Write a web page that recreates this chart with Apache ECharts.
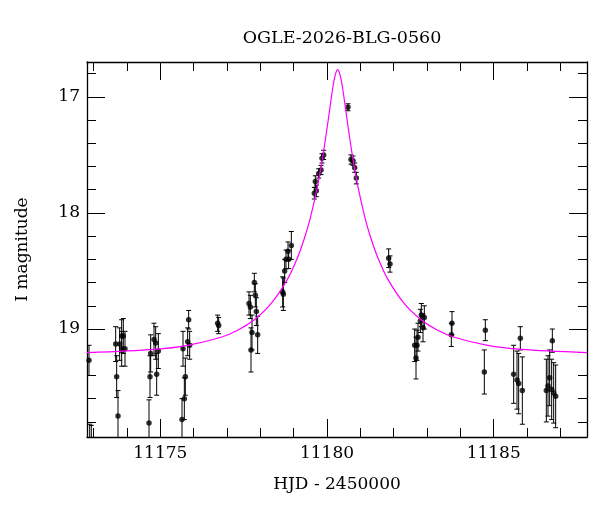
<!DOCTYPE html>
<html>
<head>
<meta charset="utf-8">
<title>OGLE-2026-BLG-0560</title>
<script src="https://cdn.jsdelivr.net/npm/echarts@6/dist/echarts.min.js"></script>
<style>
  html, body { margin: 0; padding: 0; background: #fff; }
  #chart { width: 600px; height: 512px; }
</style>
</head>
<body>
<div id="chart"></div>
<script>
// photometry: HJD - 2450000, I mag, error
const times = [
  11172.86, 11172.88, 11172.93,
  11173.66, 11173.69, 11173.73, 11173.78, 11173.84, 11173.89, 11173.84, 11173.94,
  11174.66, 11174.69, 11174.71, 11174.81, 11174.86, 11174.94, 11174.89,
  11175.65, 11175.72, 11175.75, 11175.68, 11175.82, 11175.88, 11175.85,
  11176.72, 11176.75,
  11177.72, 11177.75, 11177.66, 11177.70, 11177.82, 11177.85, 11177.88, 11177.92,
  11178.67, 11178.69, 11178.73, 11178.77, 11178.85, 11178.83, 11178.93,
  11179.62, 11179.68, 11179.65, 11179.75, 11179.82, 11179.85, 11179.90,
  11180.63, 11180.72, 11180.78, 11180.83, 11180.88,
  11181.85, 11181.89,
  11182.63, 11182.67, 11182.70, 11182.73, 11182.80, 11182.83, 11182.88, 11182.92,
  11183.75, 11183.73,
  11184.75, 11184.72,
  11185.60, 11185.70, 11185.75, 11185.86, 11185.80,
  11186.58, 11186.63, 11186.68, 11186.74, 11186.80, 11186.86, 11186.76
];
const mags = [
  19.27, 20.05, 20.10,
  19.13, 19.41, 19.75, 19.13, 19.06, 19.06, 19.17, 19.17,
  19.81, 19.41, 19.21, 19.09, 19.12, 19.19, 19.39,
  19.78, 19.60, 19.41, 19.17, 19.11, 19.14, 18.92,
  18.95, 18.97,
  19.18, 19.03, 18.78, 18.81, 18.60, 18.71, 18.85, 19.05,
  18.68, 18.70, 18.50, 18.40, 18.40, 18.33, 18.28,
  17.83, 17.81, 17.73, 17.66, 17.63, 17.53, 17.50,
  17.09, 17.54, 17.55, 17.61, 17.70,
  18.39, 18.44,
  19.14, 19.25, 19.14, 19.07, 18.93, 18.88, 18.99, 18.90,
  18.95, 19.05,
  19.01, 19.37,
  19.39, 19.44, 19.47, 19.53, 19.08,
  19.53, 19.49, 19.42, 19.52, 19.55, 19.58, 19.10
];
const errs = [
  0.13, 0.23, 0.27,
  0.15, 0.18, 0.22, 0.14, 0.14, 0.15, 0.15, 0.15,
  0.20, 0.18, 0.16, 0.14, 0.14, 0.15, 0.18,
  0.18, 0.18, 0.16, 0.15, 0.12, 0.12, 0.08,
  0.07, 0.07,
  0.19, 0.15, 0.10, 0.10, 0.08, 0.10, 0.12, 0.16,
  0.13, 0.14, 0.10, 0.08, 0.08, 0.08, 0.12,
  0.05, 0.05, 0.05, 0.04, 0.04, 0.04, 0.04,
  0.03, 0.04, 0.04, 0.04, 0.05,
  0.08, 0.07,
  0.14, 0.18, 0.13, 0.12, 0.10, 0.10, 0.12, 0.10,
  0.10, 0.10,
  0.09, 0.19,
  0.25, 0.25, 0.26, 0.29, 0.10,
  0.27, 0.26, 0.24, 0.26, 0.26, 0.27, 0.10
];

// model curve
const modelT = [
  11172.80, 11174.82, 11175.82, 11176.82, 11177.32, 11177.82, 11178.32, 11178.82,
  11179.12, 11179.32, 11179.50, 11179.72, 11179.87, 11180.02, 11180.12, 11180.17,
  11180.22, 11180.27, 11180.32, 11180.37, 11180.42, 11180.47, 11180.52, 11180.62,
  11180.77, 11180.92, 11181.14, 11181.32, 11181.52, 11181.82, 11182.32, 11182.82,
  11183.32, 11183.82, 11184.82, 11185.82, 11187.80
];
const modelMag = [
  19.204, 19.176, 19.141, 19.071, 19.011, 18.920, 18.782, 18.568,
  18.381, 18.220, 18.042, 17.763, 17.522, 17.234, 17.026, 16.928,
  16.846, 16.789, 16.765, 16.789, 16.846, 16.928, 17.026, 17.234,
  17.522, 17.763, 18.042, 18.220, 18.381, 18.568, 18.782, 18.920,
  19.011, 19.071, 19.141, 19.176, 19.204
];

const xMajor = [11175, 11180, 11185];
const xMinor = [11173, 11174, 11176, 11177, 11178, 11179, 11181, 11182, 11183, 11184, 11186, 11187];
const yMajor = [17, 18, 19];
const yMinor = [16.8, 17.2, 17.4, 17.6, 17.8, 18.2, 18.4, 18.6, 18.8, 19.2, 19.4, 19.6, 19.8];

const font = 'DejaVu Serif';
const xRange = { min: 11172.8, max: 11187.8 };
const yRange = { min: 16.7, max: 19.93 };

function xAxisDef(pos, ticks, len, withLabels, withLine) {
  return {
    type: 'value', position: pos, ...xRange,
    axisLine: { show: withLine, onZero: false, lineStyle: { color: '#000', width: 1.3 } },
    axisTick: { show: true, inside: true, length: len, customValues: ticks, lineStyle: { color: '#000', width: 1 } },
    axisLabel: withLabels
      ? { show: true, customValues: ticks, margin: 8, color: '#000', fontFamily: font, fontSize: 17,
          formatter: v => String(v) }
      : { show: false },
    splitLine: { show: false }
  };
}
function yAxisDef(pos, ticks, len, withLabels, withLine) {
  return {
    type: 'value', position: pos, inverse: true, ...yRange,
    axisLine: { show: withLine, onZero: false, lineStyle: { color: '#000', width: 1.3 } },
    axisTick: { show: true, inside: true, length: len, customValues: ticks, lineStyle: { color: '#000', width: 1 } },
    axisLabel: withLabels
      ? { show: true, customValues: ticks, margin: 7, color: '#000', fontFamily: font, fontSize: 17,
          formatter: v => String(v) }
      : { show: false },
    splitLine: { show: false }
  };
}

const points = times.map((t, i) => [t, mags[i], errs[i]]);
const model = modelT.map((t, i) => [t, modelMag[i]]);

const xMain = xAxisDef('bottom', xMajor, 18, true, true);
xMain.name = 'HJD - 2450000';
xMain.nameLocation = 'middle';
xMain.nameGap = 39;
xMain.nameTextStyle = { color: '#000', fontFamily: font, fontSize: 17 };

const yMain = yAxisDef('left', yMajor, 18, true, true);
yMain.name = 'I magnitude';
yMain.nameLocation = 'middle';
yMain.nameGap = 56;
yMain.nameTextStyle = { color: '#000', fontFamily: font, fontSize: 17 };

const chart = echarts.init(document.getElementById('chart'), null, { renderer: 'canvas' });
chart.setOption({
  backgroundColor: '#fff',
  animation: false,
  title: {
    text: 'OGLE-2026-BLG-0560',
    left: 337, top: 24, textAlign: 'center',
    textStyle: { color: '#000', fontFamily: font, fontSize: 17.5, fontWeight: 'normal' }
  },
  grid: { left: 87, right: 13, top: 62, bottom: 75 },
  xAxis: [
    xMain,
    xAxisDef('bottom', xMinor, 9, false, false),
    xAxisDef('top', xMajor, 18, false, true),
    xAxisDef('top', xMinor, 9, false, false)
  ],
  yAxis: [
    yMain,
    yAxisDef('left', yMinor, 9, false, false),
    yAxisDef('right', yMajor, 18, false, true),
    yAxisDef('right', yMinor, 9, false, false)
  ],
  series: [
    {
      // error bars with caps
      type: 'custom',
      xAxisIndex: 0, yAxisIndex: 0,
      data: points,
      clip: true,
      renderItem: function (params, api) {
        const cs = params.coordSys;
        const t = api.value(0), m = api.value(1), e = api.value(2);
        const top = api.coord([t, m - e]);
        const bot = api.coord([t, m + e]);
        const yTop = Math.max(top[1], cs.y);
        const yBot = Math.min(bot[1], cs.y + cs.height);
        const x = top[0];
        const cap = 2.5;
        const style = { stroke: '#000', lineWidth: 1 };
        const kids = [{ type: 'line', shape: { x1: x, y1: yTop, x2: x, y2: yBot }, style: style }];
        if (top[1] >= cs.y) kids.push({ type: 'line', shape: { x1: x - cap, y1: top[1], x2: x + cap, y2: top[1] }, style: style });
        if (bot[1] <= cs.y + cs.height) kids.push({ type: 'line', shape: { x1: x - cap, y1: bot[1], x2: x + cap, y2: bot[1] }, style: style });
        return { type: 'group', children: kids };
      },
      z: 2
    },
    {
      type: 'scatter',
      xAxisIndex: 0, yAxisIndex: 0,
      data: points.map(p => [p[0], p[1]]),
      symbol: 'circle',
      symbolSize: 5.5,
      itemStyle: { color: '#000' },
      clip: true,
      z: 3
    },
    {
      type: 'line',
      xAxisIndex: 0, yAxisIndex: 0,
      data: model,
      smooth: 0.3,
      showSymbol: false,
      lineStyle: { color: '#ff00ff', width: 1.2 },
      clip: true,
      z: 4
    }
  ]
});
</script>
</body>
</html>
